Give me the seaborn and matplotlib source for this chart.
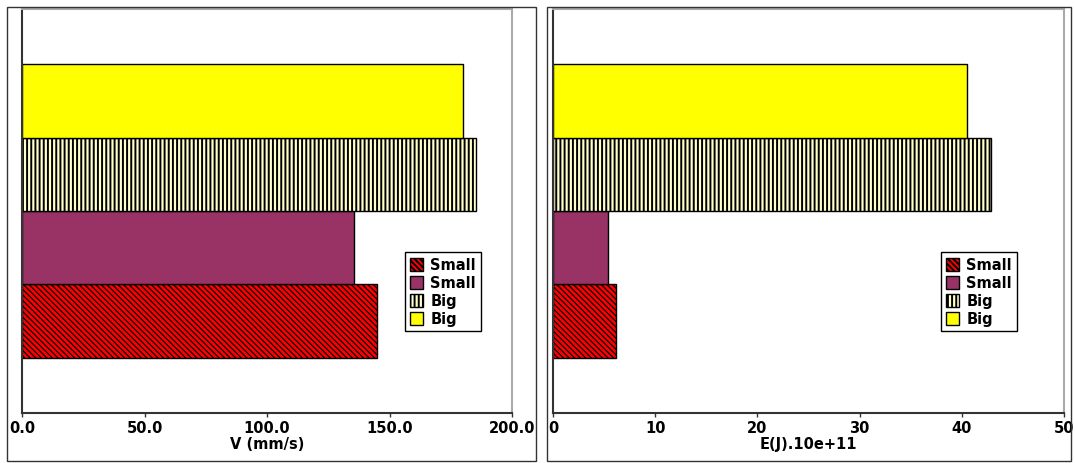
import matplotlib
matplotlib.use("Agg")
import matplotlib.pyplot as plt
import pandas as pd
import seaborn as sns
from matplotlib.patches import Rectangle

# Four runs, listed bottom to top as drawn in each panel
series = ["Small (hatched)", "Small", "Big (striped)", "Big"]
legend_labels = ["Small", "Small", "Big", "Big"]
velocity = [145.0, 135.5, 185.3, 180.1]      # V (mm/s)
energy = [6.15, 5.4, 42.9, 40.5]             # E(J).10e+11
v_ticks = [0, 50, 100, 150, 200]
e_ticks = [0, 10, 20, 30, 40, 50]

fills = ["#ff0000", "#993366", "#ffffcc", "#ffff00"]
hatches = ["\\" * 6, "", "||||", ""]
hatch_widths = [0.9, 1.0, 1.4, 1.0]

sns.set_style("white")
plt.rcParams["font.family"] = ["DejaVu Sans"]
plt.rcParams["text.color"] = "black"
plt.rcParams["axes.labelcolor"] = "black"
plt.rcParams["xtick.color"] = "black"
plt.rcParams["hatch.linewidth"] = 1.4
plt.rcParams["hatch.color"] = "black"

W, H = 1075, 464
fig = plt.figure(figsize=(W / 100, H / 100), dpi=100)


def px_axes(left, top, right, bottom):
    return fig.add_axes([left / W, 1 - bottom / H, (right - left) / W, (bottom - top) / H])


def px_frame(left, top, right, bottom):
    fig.add_artist(Rectangle((left / W, 1 - bottom / H), (right - left) / W, (bottom - top) / H,
                             transform=fig.transFigure, fill=False, edgecolor="#333333", lw=1.0))


df = pd.DataFrame({"series": series, "velocity": velocity, "energy": energy})
order = series[::-1]
palette = dict(zip(series, fills))


def draw(ax, col, xmax, ticks, fmt, xlabel, legend_x):
    sns.barplot(data=df, x=col, y="series", hue="series", order=order, hue_order=series,
                palette=palette, width=1.0, edgecolor="black", linewidth=1.0,
                saturation=1, legend=False, dodge=False, ax=ax)
    handles = []
    for cont, h, hw in zip(ax.containers, hatches, hatch_widths):
        for bar in cont:
            bar.set_hatch(h)
            if hasattr(bar, "set_hatch_linewidth"):
                bar.set_hatch_linewidth(hw)
        handles.append(cont[0])

    ax.set_ylim(len(series) - 1 + 1.25, -1.25)
    ax.set_yticks([])
    ax.set_ylabel("")
    ax.set_xlim(0, xmax)
    ax.set_xticks(ticks)
    ax.set_xticklabels([fmt.format(t) for t in ticks], fontweight="bold", fontsize=10.5,
                       color="black")
    ax.set_xlabel(xlabel, fontweight="bold", fontsize=10.5, labelpad=1, color="black")
    ax.tick_params(axis="x", bottom=True, length=3, width=1, pad=2, color="#333333")

    for side in ("left", "bottom"):
        ax.spines[side].set_color("#333333")
        ax.spines[side].set_linewidth(1.5)
    for side in ("top", "right"):
        ax.spines[side].set_color("#aaaaaa")
        ax.spines[side].set_linewidth(1.5)

    leg = ax.legend(handles, legend_labels, loc="center right", bbox_to_anchor=(legend_x, 0.30),
                    frameon=True, fancybox=False, framealpha=1, edgecolor="black",
                    prop=dict(weight="bold", size=10.5), handlelength=0.9, handleheight=1.0,
                    handletextpad=0.5, labelspacing=0.2, borderpad=0.35, borderaxespad=0)
    leg.get_frame().set_linewidth(1.0)
    for t in leg.get_texts():
        t.set_color("black")


ax1 = px_axes(22, 10, 512, 414)
ax2 = px_axes(553, 10, 1064, 414)

draw(ax1, "velocity", 200, v_ticks, "{:.1f}", "V (mm/s)", (481 - 22) / 490)
draw(ax2, "energy", 50, e_ticks, "{:d}", "E(J).10e+11", (1017 - 553) / 511)

px_frame(6.5, 7.5, 535.5, 461.5)
px_frame(546.5, 7.5, 1070.5, 461.5)

fig.savefig("out.png", dpi=100)
